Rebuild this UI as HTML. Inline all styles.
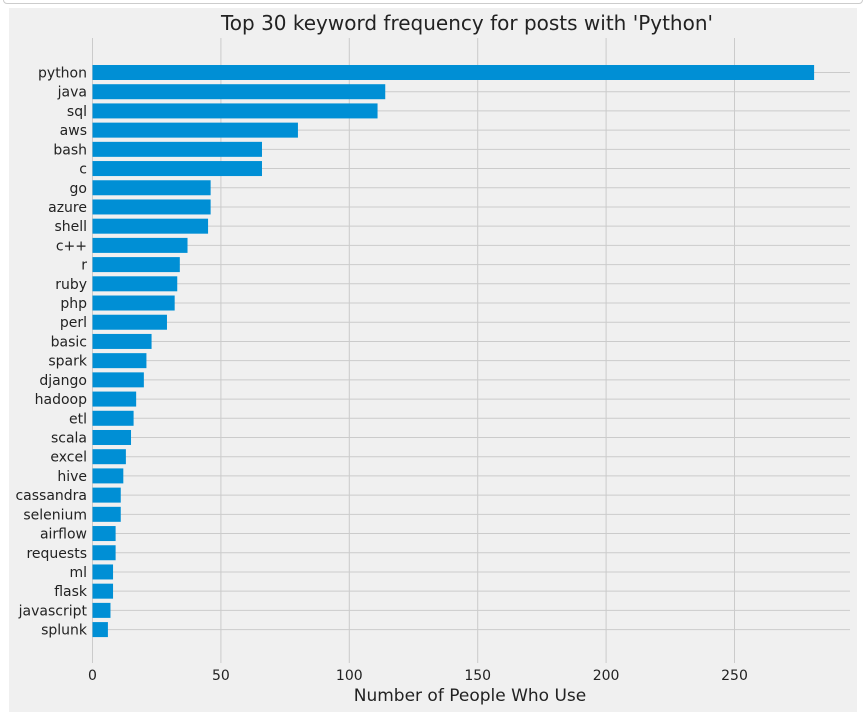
<!DOCTYPE html>
<html><head><meta charset="utf-8"><style>
body{margin:0;background:#fff;width:866px;height:717px;overflow:hidden;font-family:"DejaVu Sans","Liberation Sans",sans-serif}
#frame{position:absolute;left:3px;top:-6px;width:858px;height:8px;border:1px solid #ccc;border-radius:4px}
#fig{position:absolute;left:9px;top:8px;width:848px;height:704px;background:#f0f0f0}
svg{position:absolute;left:0;top:0}
</style></head><body>
<div id="frame"></div>
<div id="fig"></div>
<svg id="chart" width="866" height="717"></svg>
<script>
const categories=["python","java","sql","aws","bash","c","go","azure","shell","c++","r","ruby","php","perl","basic","spark","django","hadoop","etl","scala","excel","hive","cassandra","selenium","airflow","requests","ml","flask","javascript","splunk"];
const values=[281,114,111,80,66,66,46,46,45,37,34,33,32,29,23,21,20,17,16,15,13,12,11,11,9,9,8,8,7,6];
const xTicks=[0,50,100,150,200,250];
const NS="http://www.w3.org/2000/svg";
const svg=document.getElementById('chart');
const x0=92.5,pxPer=2.568,yTop=72.5,step=19.21,barH=15,xMaxPx=850,gTop=38,gBot=663;
const X=v=>x0+v*pxPer;
const Y=i=>yTop+i*step;
function mk(t,a,txt){const e=document.createElementNS(NS,t);for(const k in a)e.setAttribute(k,a[k]);if(txt!==undefined)e.textContent=txt;svg.appendChild(e);return e;}
xTicks.forEach(t=>{
 const l=mk('line',{x1:X(t),x2:X(t),y1:gTop,y2:gBot,stroke:'#cbcbcb','stroke-width':1});
 
 
 const tx=mk('text',{x:X(t),y:680,'text-anchor':'middle','font-size':14,fill:'#222'},t);
 
 
});
categories.forEach((c,i)=>{
 const l=mk('line',{x1:x0,x2:xMaxPx,y1:Y(i),y2:Y(i),stroke:'#cbcbcb','stroke-width':1});
 
 
});
categories.forEach((c,i)=>{
 const r=mk('rect',{x:x0,y:Y(i)-barH/2,width:values[i]*pxPer,height:barH,fill:'#008fd5'});
 
 
 const t=mk('text',{x:87,y:Y(i)+5,'text-anchor':'end','font-size':14,fill:'#222'},c);
 
 
});
const ti=mk('text',{x:467,y:30,'text-anchor':'middle','font-size':20,fill:'#222'},"Top 30 keyword frequency for posts with 'Python'");


const xl=mk('text',{x:470,y:701,'text-anchor':'middle','font-size':17,fill:'#222'},"Number of People Who Use");


</script>
</body></html>
